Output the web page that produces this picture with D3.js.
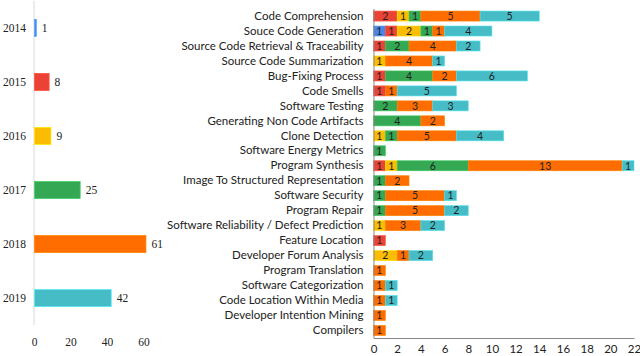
<!DOCTYPE html>
<html>
  <head>
    <meta charset="utf-8">
    <title>Papers per year and topic</title>
    <script src="https://cdn.jsdelivr.net/npm/d3@7"></script>
    <style type="text/css">
      body {
        margin: 0;
        background: #fff;
      }
      .cat text, .xr text {
        font-family: Lato, "Open Sans", sans-serif;
        font-size: 11.5px;
        fill: #222;
      }
      .yl text, .xl text, .vl {
        font-family: "Liberation Serif", serif;
        font-size: 11.5px;
        fill: #222;
      }
      .seg-label {
        font-family: Lato, sans-serif;
        font-size: 10.5px;
        fill: #222;
      }
    </style>
  </head>
<body>
  <div id="chart"></div>
  <script type="text/javascript">
    var width = 640, height = 356;

    // left chart: papers per year
    var years = ["2014", "2015", "2016", "2017", "2018", "2019"];
    var yearTotals = [1, 8, 9, 25, 61, 42];
    var yearColors = ["#4a86e8", "#ea4335", "#fbbc04", "#34a853", "#ff6d01", "#46bdc6"];
    var leftTicks = [0, 20, 40, 60];

    // right chart: topics stacked by year
    var topics = ["Code Comprehension", "Souce Code Generation", "Source Code Retrieval & Traceability",
      "Source Code Summarization", "Bug-Fixing Process", "Code Smells", "Software Testing",
      "Generating Non Code Artifacts", "Clone Detection", "Software Energy Metrics", "Program Synthesis",
      "Image To Structured Representation", "Software Security", "Program Repair",
      "Software Reliability / Defect Prediction", "Feature Location", "Developer Forum Analysis",
      "Program Translation", "Software Categorization", "Code Location Within Media",
      "Developer Intention Mining", "Compilers"];
    var s2014 = [0, 1, 0, 0, 0, 0, 0, 0, 0, 0, 0, 0, 0, 0, 0, 0, 0, 0, 0, 0, 0, 0];
    var s2015 = [2, 1, 1, 0, 1, 1, 0, 0, 0, 0, 1, 0, 0, 0, 0, 1, 0, 0, 0, 0, 0, 0];
    var s2016 = [1, 2, 0, 1, 0, 0, 0, 0, 1, 0, 1, 0, 0, 0, 1, 0, 2, 0, 0, 0, 0, 0];
    var s2017 = [1, 1, 2, 0, 4, 0, 2, 4, 1, 1, 6, 1, 1, 1, 0, 0, 0, 0, 0, 0, 0, 0];
    var s2018 = [5, 1, 4, 4, 2, 1, 3, 2, 5, 0, 13, 2, 5, 5, 3, 0, 1, 1, 1, 1, 1, 1];
    var s2019 = [5, 4, 2, 1, 6, 5, 3, 0, 4, 0, 1, 0, 1, 2, 2, 0, 2, 0, 1, 1, 0, 0];
    var rightTicks = [0, 2, 4, 6, 8, 10, 12, 14, 16, 18, 20, 22];

    var series = [s2014, s2015, s2016, s2017, s2018, s2019];

    var svg = d3.select("#chart").append("svg")
      .attr("width", width)
      .attr("height", height);

    // ---- left chart
    var xL = d3.scaleLinear().domain([0, 60]).range([34, 143.6]);
    var yL = d3.scaleBand().domain(years).range([1, 325]).paddingInner(0.685).paddingOuter(0.34);

    svg.append("line")
      .attr("x1", xL(0)).attr("x2", xL(0))
      .attr("y1", 1).attr("y2", 325)
      .attr("stroke", "#e6e6e6").attr("stroke-width", 1.5);

    svg.append("g").selectAll("rect")
      .data(years)
      .join("rect")
      .attr("x", xL(0) + 0.5)
      .attr("y", function (d) { return yL(d); })
      .attr("width", function (d, i) { return Math.max(xL(yearTotals[i]) - xL(0), 1.5); })
      .attr("height", yL.bandwidth())
      .attr("fill", function (d, i) { return yearColors[i]; })
      .attr("stroke", function (d, i) { return d3.color(yearColors[i]).brighter(0.6); })
      .attr("stroke-width", 0.8);

    svg.append("g").selectAll("text")
      .data(years)
      .join("text")
      .attr("class", "vl")
      .attr("x", function (d, i) { return xL(yearTotals[i]) + 6; })
      .attr("y", function (d) { return yL(d) + yL.bandwidth() / 2; })
      .attr("dy", "0.35em")
      .text(function (d, i) { return yearTotals[i]; });

    var yAxisL = svg.append("g").attr("class", "yl")
      .attr("transform", "translate(26,0)")
      .call(d3.axisLeft(yL).tickSize(0).tickPadding(0));
    yAxisL.select(".domain").remove();
    yAxisL.selectAll("text").attr("text-anchor", "end");

    var xAxisL = svg.append("g").attr("class", "xl")
      .attr("transform", "translate(0,335)")
      .call(d3.axisBottom(xL).tickValues(leftTicks).tickSize(0).tickPadding(3));
    xAxisL.select(".domain").remove();

    // ---- right chart
    var xR = d3.scaleLinear().domain([0, 22]).range([373.5, 634]);
    var yR = d3.scaleBand().domain(topics).range([8.5, 338]).paddingInner(0.33).paddingOuter(0.17);

    var rows = topics.map(function (t, i) {
      var o = { topic: t };
      years.forEach(function (y, k) { o[y] = series[k][i]; });
      return o;
    });
    var stacked = d3.stack().keys(years)(rows);

    var layers = svg.append("g").selectAll("g")
      .data(stacked)
      .join("g")
      .attr("fill", function (d, i) { return yearColors[i]; });

    layers.selectAll("rect")
      .data(function (d) { return d.filter(function (p) { return p[1] > p[0]; }); })
      .join("rect")
      .attr("x", function (p) { return xR(p[0]); })
      .attr("y", function (p) { return yR(p.data.topic); })
      .attr("width", function (p) { return xR(p[1]) - xR(p[0]); })
      .attr("height", yR.bandwidth())
      .attr("stroke", function () { return d3.color(d3.select(this.parentNode).attr("fill")).brighter(0.5); })
      .attr("stroke-width", 0.6);

    layers.selectAll("text")
      .data(function (d) { return d.filter(function (p) { return p[1] > p[0]; }); })
      .join("text")
      .attr("class", "seg-label")
      .attr("x", function (p) { return (xR(p[0]) + xR(p[1])) / 2; })
      .attr("y", function (p) { return yR(p.data.topic) + yR.bandwidth() / 2; })
      .attr("dy", "0.36em")
      .attr("text-anchor", "middle")
      .text(function (p) { return p[1] - p[0]; });

    var yAxisR = svg.append("g").attr("class", "cat")
      .attr("transform", "translate(373.5,0)")
      .call(d3.axisLeft(yR).tickSize(0).tickPadding(10));
    yAxisR.select(".domain").attr("stroke", "#888");

    var xAxisR = svg.append("g").attr("class", "xr")
      .attr("transform", "translate(0,338)")
      .call(d3.axisBottom(xR).tickValues(rightTicks).tickSize(0).tickPadding(7));
    xAxisR.select(".domain").attr("stroke", "#888");
  </script>
</body>
</html>
